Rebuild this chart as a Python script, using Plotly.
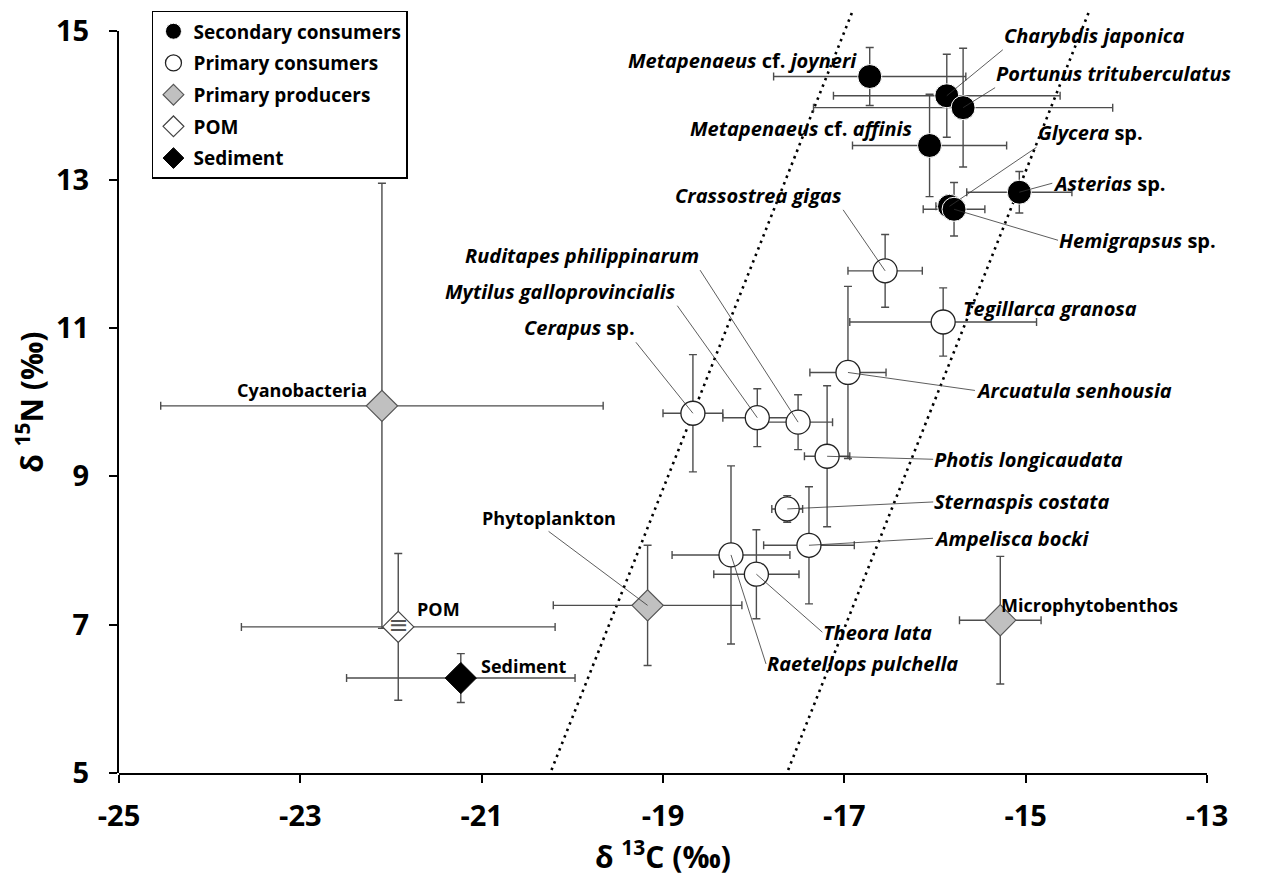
import plotly.graph_objects as go

# ---------------- data (δ13C, δ15N, SD) ----------------
sec_names = ["<i>Metapenaeus</i> cf. <i>joyneri</i>", "<i>Charybdis japonica</i>",
             "<i>Portunus trituberculatus</i>", "<i>Metapenaeus</i> cf. <i>affinis</i>",
             "<i>Glycera</i> sp.", "<i>Asterias</i> sp.", "<i>Hemigrapsus</i> sp."]
sec_c = [-16.72, -15.87, -15.69, -16.06, -15.84, -15.07, -15.79]
sec_n = [14.39, 14.13, 13.97, 13.46, 12.64, 12.83, 12.60]
sec_c_sd = [1.06, 1.25, 1.65, 0.85, 0.15, 0.58, 0.34]
sec_n_sd = [0.39, 0.56, 0.80, 0.69, 0.15, 0.28, 0.36]

pri_names = ["<i>Crassostrea gigas</i>", "<i>Tegillarca granosa</i>", "<i>Arcuatula senhousia</i>",
             "<i>Cerapus</i> sp.", "<i>Mytilus galloprovincialis</i>", "<i>Ruditapes philippinarum</i>",
             "<i>Photis longicaudata</i>", "<i>Sternaspis costata</i>", "<i>Ampelisca bocki</i>",
             "<i>Raetellops pulchella</i>", "<i>Theora lata</i>"]
pri_c = [-16.55, -15.91, -16.96, -18.67, -17.96, -17.51, -17.19, -17.63, -17.39, -18.25, -17.97]
pri_n = [11.77, 11.08, 10.40, 9.85, 9.79, 9.73, 9.27, 8.56, 8.07, 7.94, 7.68]
pri_c_sd = [0.41, 1.03, 0.42, 0.33, 0.38, 0.38, 0.25, 0.17, 0.50, 0.65, 0.47]
pri_n_sd = [0.49, 0.46, 1.16, 0.79, 0.39, 0.37, 0.95, 0.18, 0.79, 1.20, 0.60]

prod_names = ["Cyanobacteria", "Phytoplankton", "Microphytobenthos"]
prod_c = [-22.10, -19.17, -15.28]
prod_n = [9.95, 7.26, 7.06]
prod_c_sd = [2.44, 1.04, 0.45]
prod_n_sd = [3.00, 0.81, 0.86]

pom_names = ["POM"]
pom_c = [-21.92]
pom_n = [6.97]
pom_c_sd = [1.73]
pom_n_sd = [0.99]

sed_names = ["Sediment"]
sed_c = [-21.23]
sed_n = [6.28]
sed_c_sd = [1.26]
sed_n_sd = [0.33]

# trophic enrichment guide lines
guide_n = [5.04, 15.3]
guide_left_c = [-20.23, -16.90]
guide_right_c = [-17.62, -14.29]

x_ticks = [-25, -23, -21, -19, -17, -15, -13]
y_ticks = [5, 7, 9, 11, 13, 15]

# ---------------- styling ----------------
FONT = "Open Sans"
ERR = "#4d4d4d"
Y_SHOWN = [5, 15]        # range of the visible δ15N axis
Y_DRAW = [5, 15.3]       # drawing range (guide lines run a little above the axis)

fig = go.Figure()

for gx in (guide_left_c, guide_right_c):
    fig.add_trace(go.Scatter(x=gx, y=guide_n, mode="lines", showlegend=False, hoverinfo="skip",
                             line=dict(color="black", width=2.6, dash="2.5px,4.5px")))


def add_group(name, xs, ys, xe, ye, symbol, size, fill, lcol, lw, rank):
    fig.add_trace(go.Scatter(
        x=xs, y=ys, mode="markers", name=name, legendgroup=name, legendrank=rank,
        cliponaxis=False,
        error_x=dict(type="data", array=xe, visible=True, color=ERR, thickness=1.4, width=4),
        error_y=dict(type="data", array=ye, visible=True, color=ERR, thickness=1.4, width=4),
        marker=dict(symbol=symbol, size=size, color=fill, line=dict(color=lcol, width=lw))))


add_group("Primary producers", prod_c, prod_n, prod_c_sd, prod_n_sd, "diamond", 24, "#c0c0c0", "#555555", 1.2, 3)
add_group("POM", pom_c, pom_n, pom_c_sd, pom_n_sd, "diamond", 24, "white", "#444444", 1.2, 4)
fig.add_trace(go.Scatter(x=pom_c, y=pom_n, mode="text", text=["≡"], showlegend=False, hoverinfo="skip",
                         textfont=dict(size=24, color="#555555", family="DejaVu Sans")))
add_group("Sediment", sed_c, sed_n, sed_c_sd, sed_n_sd, "diamond", 24, "black", "black", 1, 5)
add_group("Primary consumers", pri_c, pri_n, pri_c_sd, pri_n_sd, "circle", 24, "white", "#222222", 1.3, 2)
add_group("Secondary consumers", sec_c, sec_n, sec_c_sd, sec_n_sd, "circle", 24, "black", "white", 1, 1)

# empty trace that carries the visible δ15N axis
fig.add_trace(go.Scatter(x=[], y=[], yaxis="y2", showlegend=False, hoverinfo="skip"))

# ---------------- labels ----------------
lab_font = dict(family=FONT, size=20, color="black", weight="bold")
prod_font = dict(family=FONT, size=18, color="black", weight="bold")

# layout per label: mode 'arrow' -> (ax, ay) ; 'shift' -> (xshift, yshift)
sec_label_layout = [("shift", -127, 16, "center", "middle"),
                    ("arrow", 56, -46, "left", "bottom"),
                    ("arrow", 32, -20, "left", "bottom"),
                    ("shift", -128, 17, "center", "middle"),
                    ("arrow", 87, -59, "left", "bottom"),
                    ("arrow", 33, -9, "left", "middle"),
                    ("arrow", 104, 31, "left", "middle")]
pri_label_layout = [("arrow", -42, -61, "right", "bottom"),
                    ("shift", 107, 14, "center", "middle"),
                    ("arrow", 127, 18, "left", "middle"),
                    ("arrow", -57, -71, "right", "bottom"),
                    ("arrow", -80, -112, "right", "bottom"),
                    ("arrow", -98, -152, "right", "bottom"),
                    ("arrow", 106, 3, "left", "middle"),
                    ("arrow", 146, -7, "left", "middle"),
                    ("arrow", 124, -7, "left", "middle"),
                    ("arrow", 35, 109, "left", "middle"),
                    ("arrow", 66, 58, "left", "middle")]
prod_label_layout = [("shift", -80, 16, "center", "middle"),
                     ("arrow", -99, -74, "center", "bottom"),
                     ("shift", 89, 15, "center", "middle")]


def add_labels(names, xs, ys, layout, font):
    for t, xv, yv, (mode, p1, p2, xa, ya) in zip(names, xs, ys, layout):
        if mode == "arrow":
            fig.add_annotation(x=xv, y=yv, text=t, showarrow=True, ax=p1, ay=p2,
                               xanchor=xa, yanchor=ya, arrowhead=0, arrowwidth=0.8,
                               arrowcolor="#333333", standoff=0, font=font, borderpad=0)
        else:
            fig.add_annotation(x=xv, y=yv, text=t, showarrow=False, xshift=p1, yshift=p2,
                               xanchor=xa, yanchor=ya, font=font)


add_labels(sec_names, sec_c, sec_n, sec_label_layout, lab_font)
add_labels(pri_names, pri_c, pri_n, pri_label_layout, lab_font)
add_labels(prod_names, prod_c, prod_n, prod_label_layout, prod_font)
add_labels(pom_names, pom_c, pom_n, [("shift", 40, 18, "center", "middle")], prod_font)
add_labels(sed_names, sed_c, sed_n, [("shift", 63, 12, "center", "middle")], prod_font)

axis_common = dict(showgrid=False, zeroline=False, showline=True, linecolor="black", linewidth=2,
                   ticks="outside", ticklen=8, tickwidth=2, tickcolor="black",
                   tickfont=dict(family=FONT, size=29, color="black", weight="bold"))
title_font = dict(family=FONT, size=30, color="black", weight="bold")

shown_frac = (Y_SHOWN[1] - Y_SHOWN[0]) / (Y_DRAW[1] - Y_DRAW[0])

# page body has an 8px margin, so the figure is sized to sit the plot area where the reference has it
fig.update_layout(
    width=1259, height=869,
    margin=dict(l=111, r=60, t=1, b=104, autoexpand=False),
    plot_bgcolor="rgba(0,0,0,0)", paper_bgcolor="white",
    font=dict(family=FONT, color="black"),
    xaxis=dict(range=[-25, -13], tickvals=x_ticks, ticktext=[str(v) for v in x_ticks],
               ticklabelstandoff=8, anchor="y",
               title=dict(text="δ <sup>13</sup>C (‰)", standoff=14, font=title_font),
               **axis_common),
    yaxis=dict(range=Y_DRAW, domain=[0, 1], visible=False, showgrid=False, zeroline=False),
    yaxis2=dict(range=Y_SHOWN, domain=[0, shown_frac], anchor="x",
                tickvals=y_ticks, ticktext=[str(v) for v in y_ticks],
                ticklabelstandoff=14,
                title=dict(text="δ <sup>15</sup>N (‰)", standoff=10, font=title_font),
                **axis_common),
    legend=dict(x=0.0303, y=0.9975, xanchor="left", yanchor="top",
                bgcolor="white", bordercolor="black", borderwidth=1.5,
                font=dict(family=FONT, size=19, color="black", weight="bold"),
                tracegroupgap=4, itemsizing="trace"),
    showlegend=True,
)

fig.write_html("out.html")
